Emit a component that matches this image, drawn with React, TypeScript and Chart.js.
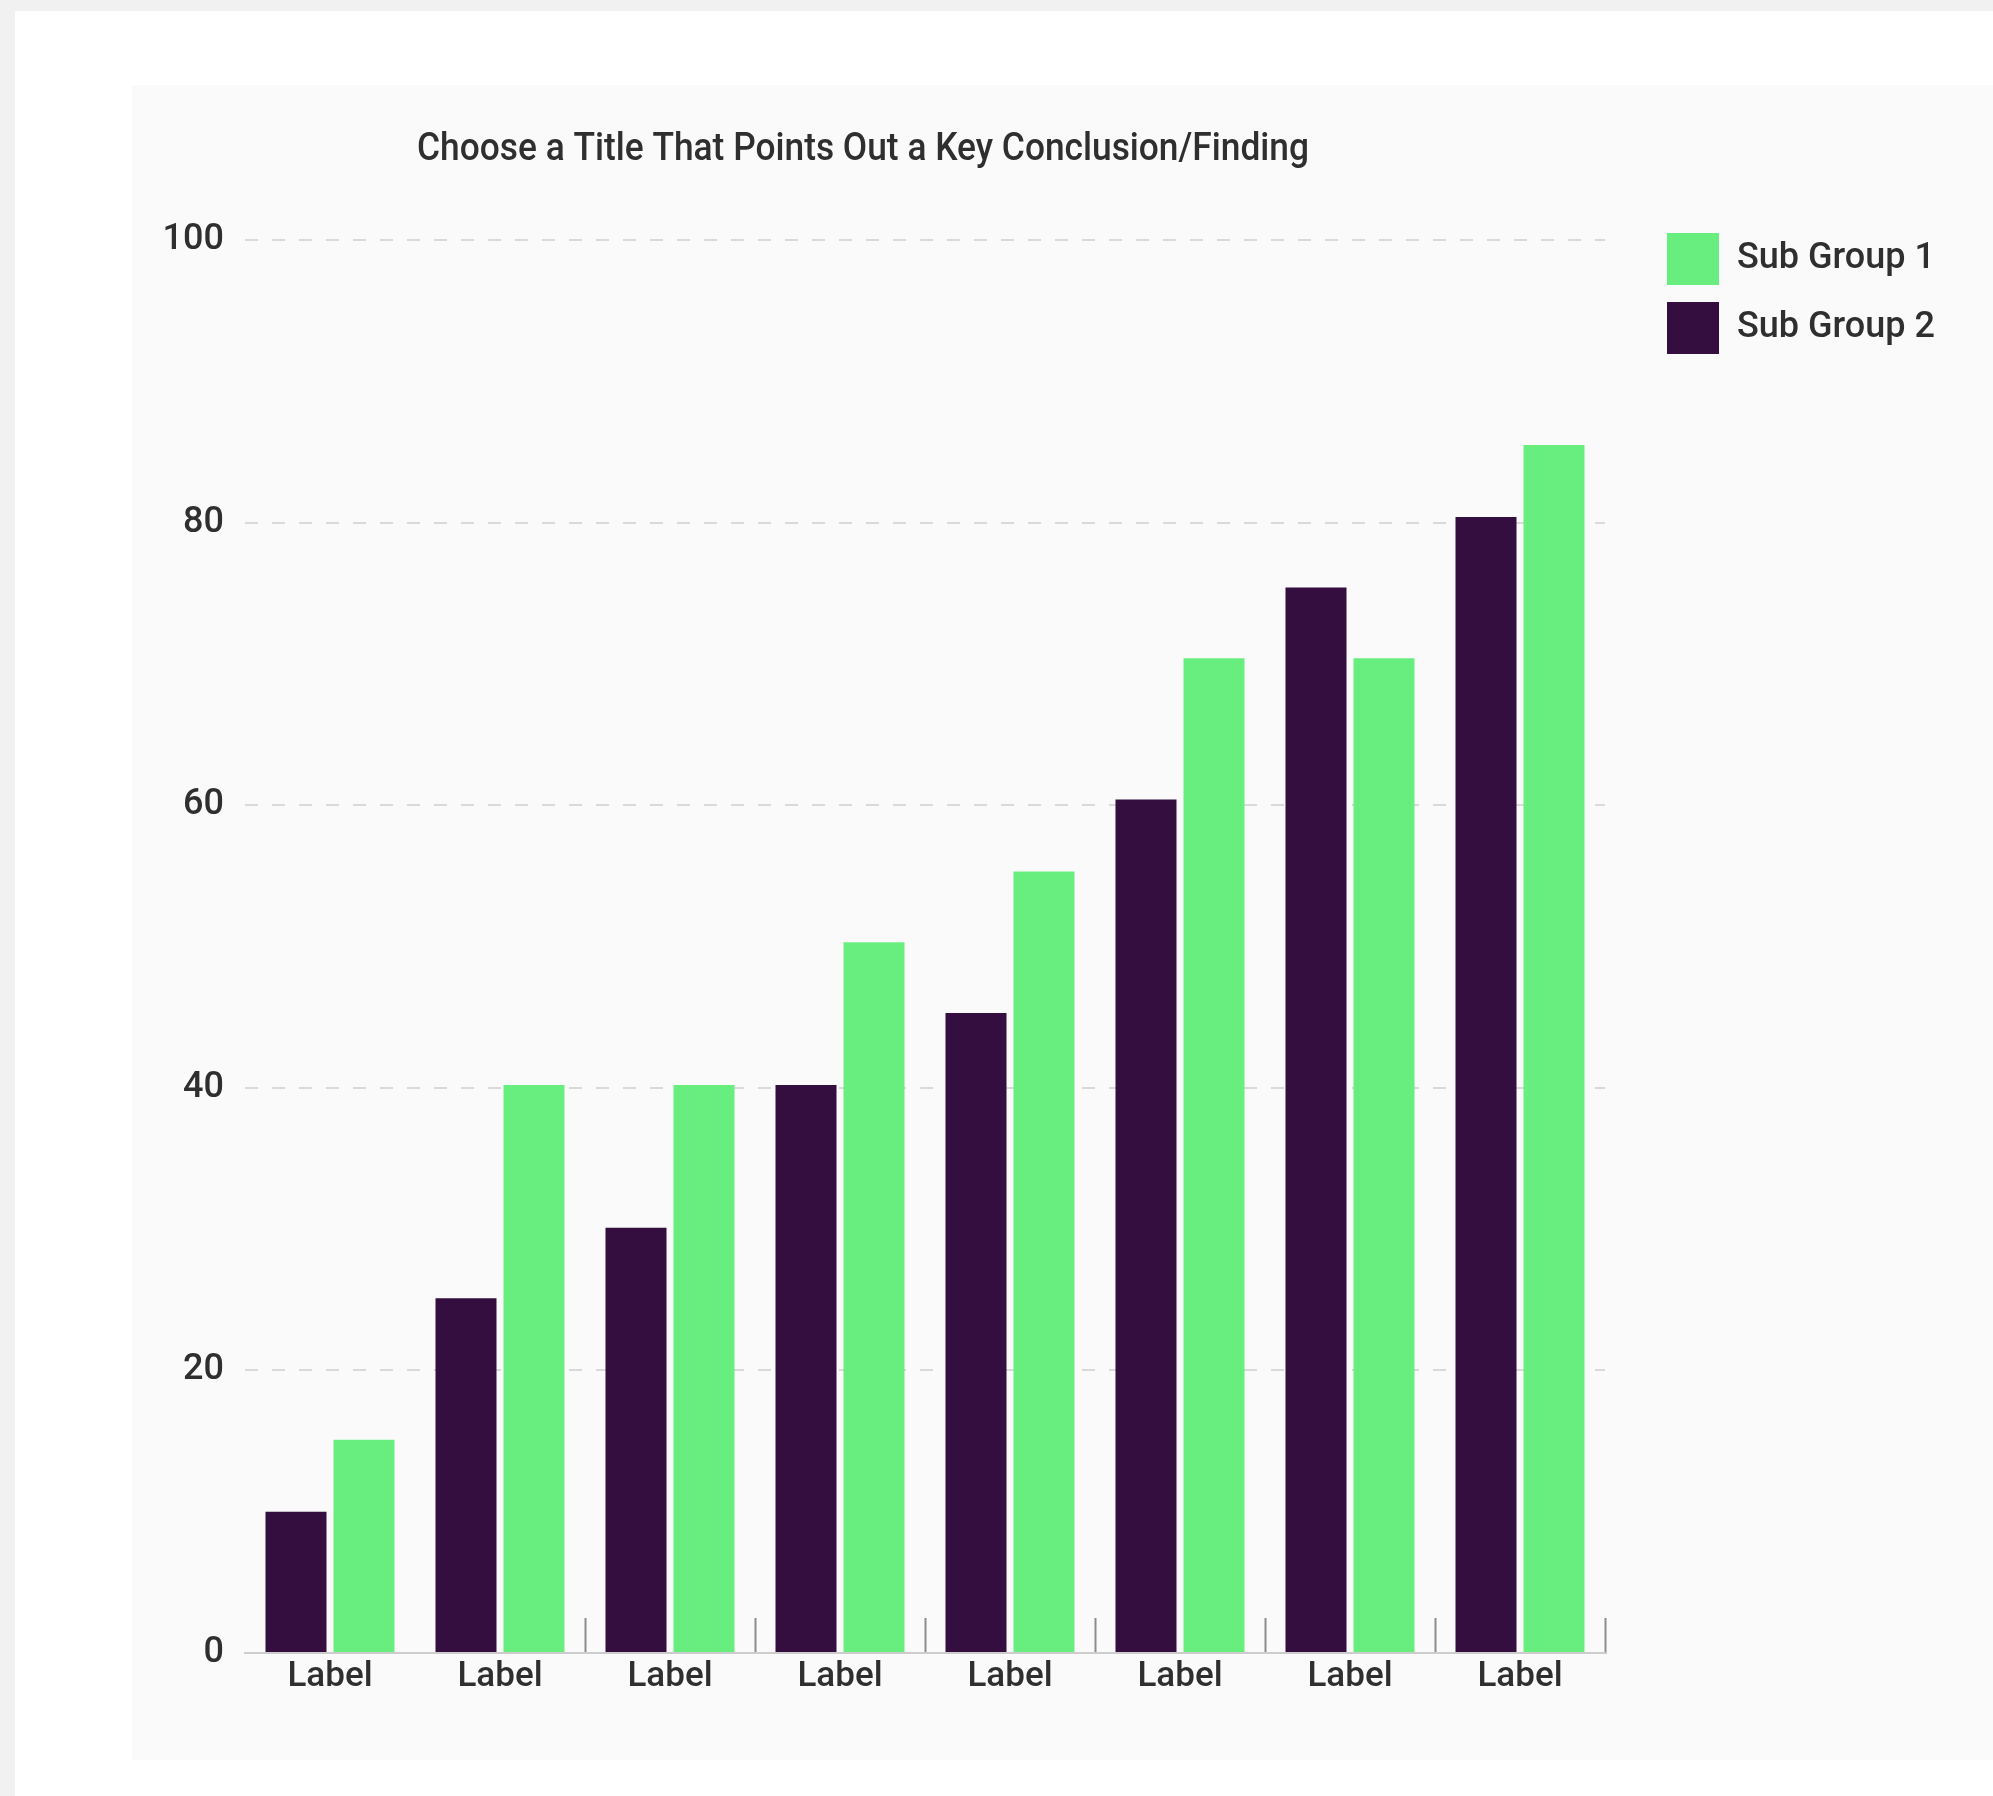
import { useEffect, useRef } from 'react';
import { Chart, registerables } from 'chart.js';

Chart.register(...registerables);

// ---- data ----
const CATEGORIES = ['Label', 'Label', 'Label', 'Label', 'Label', 'Label', 'Label', 'Label'];
const SUB_GROUP_1 = [15.1, 40.2, 40.2, 50.3, 55.3, 70.4, 70.4, 85.5];
const SUB_GROUP_2 = [10, 25.1, 30.1, 40.2, 45.3, 60.4, 75.4, 80.4];
const SERIES_NAMES = ['Sub Group 1', 'Sub Group 2'];
const Y_MIN = 0;
const Y_MAX = 100;
const Y_STEP = 20;
const TITLE = 'Choose a Title That Points Out a Key Conclusion/Finding';

// ---- style ----
const FONT = 'Roboto, "Noto Sans", "DejaVu Sans", sans-serif';
const GREEN = '#68ee7f';
const DARK = '#330e3e';
const TEXT = '#2f2f2f';

const CANVAS_W = 1861;
const CANVAS_H = 1675;
const LEGEND_LEFT = 1518;
const LEGEND_PAD = 17;
const LEGEND_BOX = 52;
const LEGEND_FONT = 36;

const titlePlugin = {
  id: 'offsetTitle',
  afterDraw(chart: any) {
    const { ctx, chartArea } = chart;
    ctx.save();
    ctx.font = `500 38px ${FONT}`;
    const w = ctx.measureText(TITLE).width;
    const targetW = 892;
    ctx.translate(chartArea.left + 618, chartArea.top - 80);
    ctx.scale(targetW / w, 1);
    ctx.fillStyle = TEXT;
    ctx.textAlign = 'center';
    ctx.textBaseline = 'alphabetic';
    ctx.fillText(TITLE, 0, 0);
    ctx.restore();
  },
};

export default function App() {
  const ref = useRef<HTMLCanvasElement>(null);

  useEffect(() => {
    if (!ref.current) return;
    const m = document.createElement('canvas').getContext('2d')!;
    m.font = `normal 500 ${LEGEND_FONT}px ${FONT}`;
    const textW = Math.max(...SERIES_NAMES.map((t) => m.measureText(t).width));
    const legendW = LEGEND_PAD + LEGEND_BOX + LEGEND_FONT / 2 + textW + 10;
    const padRight = CANVAS_W - LEGEND_LEFT - legendW;

    const chart = new Chart(ref.current, {
      type: 'bar',
      data: {
        labels: CATEGORIES,
        datasets: [
          {
            label: SERIES_NAMES[1],
            data: SUB_GROUP_2,
            backgroundColor: DARK,
            borderWidth: 0,
            categoryPercentage: 0.8,
            barPercentage: 0.897,
          },
          {
            label: SERIES_NAMES[0],
            data: SUB_GROUP_1,
            backgroundColor: GREEN,
            borderWidth: 0,
            categoryPercentage: 0.8,
            barPercentage: 0.897,
          },
        ],
      },
      options: {
        responsive: false,
        animation: false,
        events: [],
        layout: { padding: { top: 131, left: 0, bottom: 7, right: padRight } },
        plugins: {
          tooltip: { enabled: false },
          title: { display: true, text: '', font: { size: 20 }, padding: 0 },
          legend: {
            display: true,
            position: 'right',
            align: 'start',
            reverse: true,
            maxWidth: 800,
            labels: {
              boxWidth: LEGEND_BOX,
              boxHeight: LEGEND_BOX,
              padding: LEGEND_PAD,
              color: TEXT,
              font: { family: FONT, size: LEGEND_FONT, weight: '500' },
            },
          },
        },
        scales: {
          x: {
            offset: true,
            grid: {
              display: true,
              offset: true,
              drawOnChartArea: false,
              drawTicks: true,
              tickLength: -35,
              tickWidth: 2,
              tickColor: (c: any) =>
                c.index !== undefined && c.index < 2 ? 'rgba(0,0,0,0)' : '#8c8c8c',
            },
            border: { display: true, color: '#cdcdcd', width: 2 },
            ticks: {
              color: TEXT,
              padding: 38,
              maxRotation: 0,
              autoSkip: false,
              font: { family: FONT, size: 35, weight: '500' },
            },
            afterFit: (s: any) => {
              s.height = 100;
            },
          },
          y: {
            min: Y_MIN,
            max: Y_MAX,
            grid: {
              drawTicks: false,
              lineWidth: 2,
              color: (c: any) => (c.tick && c.tick.value === 0 ? 'rgba(0,0,0,0)' : '#d9d9d9'),
            },
            border: { display: false, dash: [13, 14] },
            ticks: {
              stepSize: Y_STEP,
              color: TEXT,
              padding: 21,
              font: { family: FONT, size: 36, weight: '500' },
            },
            afterFit: (s: any) => {
              s.width = 113;
            },
          },
          gap: {
            type: 'linear',
            position: 'right',
            display: true,
            grid: { display: false, drawTicks: false },
            border: { display: false },
            ticks: { display: false },
            afterFit: (s: any) => {
              s.width = 45;
            },
          },
        },
      } as any,
      plugins: [titlePlugin],
    });
    return () => chart.destroy();
  }, []);

  return (
    <div
      style={{
        position: 'absolute',
        left: 0,
        top: 0,
        width: 1993,
        height: 1796,
        background: '#f1f1f1',
        overflow: 'hidden',
      }}
    >
      <div
        style={{ position: 'absolute', left: 15, top: 11, right: 0, bottom: 0, background: '#ffffff' }}
      />
      <div
        style={{
          position: 'absolute',
          left: 132,
          top: 85,
          width: CANVAS_W,
          height: CANVAS_H,
          background: '#fafafa',
        }}
      >
        <canvas ref={ref} width={CANVAS_W} height={CANVAS_H} style={{ display: 'block' }} />
      </div>
    </div>
  );
}
